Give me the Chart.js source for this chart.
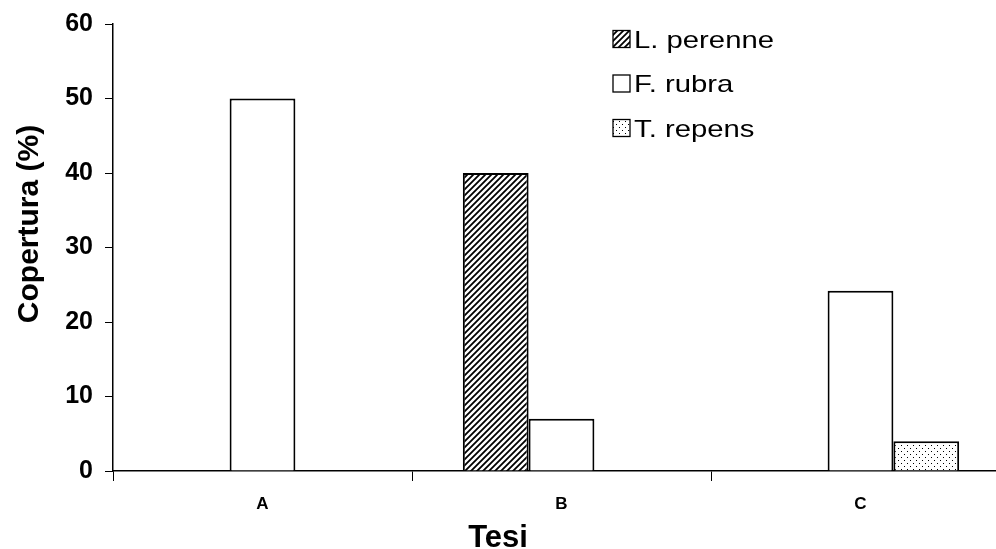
<!DOCTYPE html>
<html>
<head>
<meta charset="utf-8">
<script src="https://cdn.jsdelivr.net/npm/chart.js@4/dist/chart.umd.min.js"></script>
<style>
  html, body { margin: 0; padding: 0; background: #fff; overflow: hidden; }
  #wrap { width: 996px; height: 549px; overflow: hidden; }
</style>
</head>
<body>
<div id="wrap"><canvas id="chart" width="1010" height="549"></canvas></div>
<script>
// data
const categories = ["A", "B", "C"];
const seriesNames = ["L. perenne", "F. rubra", "T. repens"];
const lPerenne = [null, 40, null];
const fRubra = [50, 7, 24.2];
const tRepens = [null, null, 4];
const yTicks = [0, 10, 20, 30, 40, 50, 60];
const xTitle = "Tesi";
const yTitle = "Copertura (%)";

const FONT = "'Liberation Sans', Arial, sans-serif";

// fill patterns
function hatchPattern() {
  const c = document.createElement("canvas");
  c.width = 6; c.height = 6;
  const g = c.getContext("2d");
  g.fillStyle = "#fff"; g.fillRect(0, 0, 6, 6);
  g.strokeStyle = "#000"; g.lineWidth = 1.8;
  g.beginPath();
  g.moveTo(-1, 7); g.lineTo(7, -1);
  g.moveTo(-4, 4); g.lineTo(4, -4);
  g.moveTo(2, 10); g.lineTo(10, 2);
  g.stroke();
  return g.createPattern(c, "repeat");
}
function dotPattern() {
  const c = document.createElement("canvas");
  c.width = 6; c.height = 6;
  const g = c.getContext("2d");
  g.fillStyle = "#fff"; g.fillRect(0, 0, 6, 6);
  g.fillStyle = "#000";
  g.fillRect(1, 1, 1, 1);
  g.fillRect(4, 4, 1, 1);
  return g.createPattern(c, "repeat");
}
const fills = [hatchPattern(), "#fff", dotPattern()];

// legend inside the plot (top right) and the two axis titles
const extras = {
  id: "extras",
  afterDraw(chart) {
    const ctx = chart.ctx;
    ctx.save();
    ctx.fillStyle = "#000";
    ctx.textBaseline = "alphabetic";
    chart.data.datasets.forEach((ds, i) => {
      const cy = 39 + i * 44.5;
      ctx.fillStyle = ds.backgroundColor;
      ctx.fillRect(613, cy - 8.5, 17, 17);
      ctx.strokeStyle = "#000"; ctx.lineWidth = 1.3;
      ctx.strokeRect(613, cy - 8.5, 17, 17);
      ctx.fillStyle = "#000";
      ctx.save();
      ctx.translate(634, cy + 8.5);
      ctx.scale(1.22, 1);
      ctx.font = "24px " + FONT;
      ctx.fillText(ds.label, 0, 0);
      ctx.restore();
    });

    ctx.font = "bold 31px " + FONT;
    ctx.textAlign = "center";
    ctx.fillText(xTitle, 498, 547);

    ctx.save();
    ctx.translate(38, 224);
    ctx.rotate(-Math.PI / 2);
    ctx.font = "bold 30px " + FONT;
    ctx.textAlign = "center";
    ctx.fillText(yTitle, 0, 0);
    ctx.restore();
    ctx.restore();
  }
};

const common = { borderColor: "#000", borderWidth: 2, barPercentage: 1, categoryPercentage: 0.66, borderSkipped: "bottom" };

new Chart(document.getElementById("chart"), {
  type: "bar",
  data: {
    labels: categories,
    datasets: [
      { label: seriesNames[0], data: lPerenne, backgroundColor: fills[0], ...common },
      { label: seriesNames[1], data: fRubra, backgroundColor: fills[1], ...common },
      { label: seriesNames[2], data: tRepens, backgroundColor: fills[2], ...common }
    ]
  },
  options: {
    responsive: false,
    animation: false,
    layout: { padding: { top: 24, right: 0, bottom: 0, left: 0 } },
    plugins: { legend: { display: false }, tooltip: { enabled: false } },
    scales: {
      x: {
        afterFit: s => { s.height = 78; s.paddingLeft = 0; s.paddingRight = 0; },
        grid: { drawOnChartArea: false, color: "#000", tickLength: 10, offset: true },
        border: { color: "#000", width: 1.5 },
        ticks: { color: "#000", font: { family: FONT, size: 17, weight: "bold" }, padding: 13 }
      },
      y: {
        min: 0, max: 60,
        afterBuildTicks: s => { s.ticks = yTicks.map(v => ({ value: v })); },
        afterFit: s => { s.width = 113; s.paddingTop = 0; s.paddingBottom = 0; },
        grid: { drawOnChartArea: false, color: "#000", tickLength: 8 },
        border: { color: "#000", width: 1.5 },
        ticks: { color: "#000", font: { family: FONT, size: 25, weight: "bold" }, padding: 12 }
      }
    }
  },
  plugins: [extras]
});
</script>
</body>
</html>
